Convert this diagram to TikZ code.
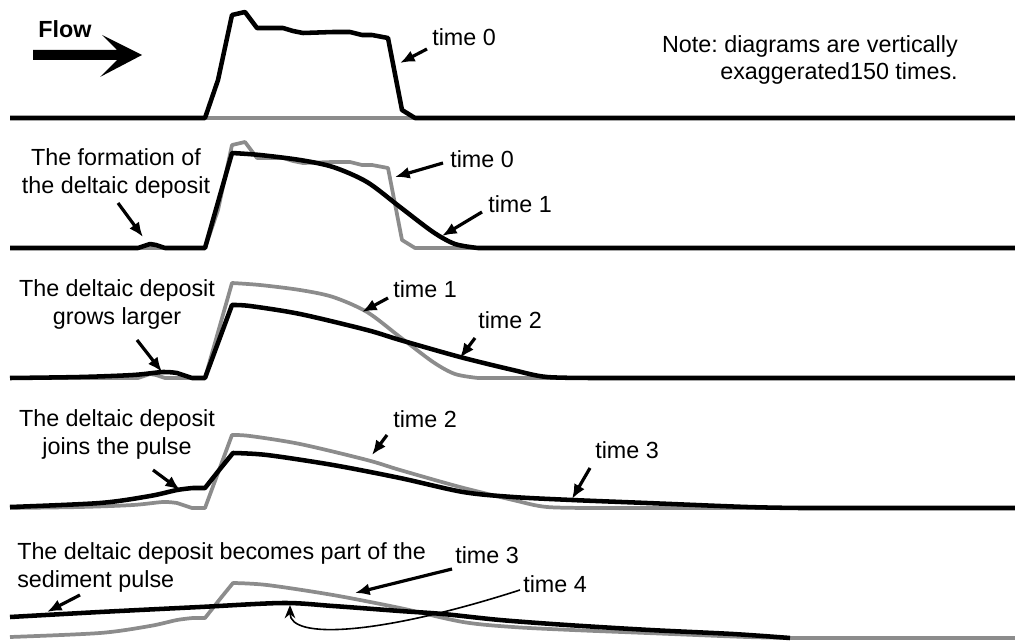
\documentclass[tikz,border=0pt]{standalone}
\usepackage{fontspec}
\setmainfont{Liberation Sans}
\usetikzlibrary{arrows.meta}
\definecolor{gcurve}{RGB}{140,140,140}
\frenchspacing
\begin{document}
\begin{tikzpicture}[x=0.75pt,y=-0.75pt,
  blk/.style={line width=3.4pt, line join=round},
  gry/.style={draw=gcurve, line width=2.8pt, line join=round},
  lbl/.style={font=\fontsize{17.5}{20.4}\selectfont, inner sep=0pt},
  ptr/.style={line width=2.4pt, -{Latex[length=11pt,width=9pt]}},
  thinptr/.style={line width=1.2pt, -{Stealth[length=10pt,width=8pt]}},
]
\useasboundingbox (0,0) rectangle (1015,642);

% ---------------- Panel 1 ----------------
\draw[gry] (205,118) -- (415,118);
\draw[blk] (10,118) -- (205,118) -- (218,80) -- (232,15) -- (245,12) -- (257,28) -- (283,28) -- (293,31) -- (303,33) -- (333,32) -- (350,32) -- (362,35) -- (372,35) -- (388,38) -- (402,110) -- (415,118) -- (1015,118);
\node[lbl, font=\fontsize{17.5}{20.4}\selectfont\bfseries, anchor=base west] (flow) at (38,38) {Flow};
\fill (33,50) -- (117,50) -- (102,35) -- (142,55) -- (100,77) -- (117,60) -- (33,60) -- cycle;
\node[lbl, anchor=base west] (t0a) at (432,46) {time 0};
\coordinate (t0as) at (427,49);
\coordinate (t0at) at (400,63);
\draw[ptr] (t0as) -- (t0at);
\node[lbl, align=right, anchor=base east] (note) at (958,80) {Note: diagrams are vertically\\exaggerated150 times.};

% ---------------- Panel 2 ----------------
\begin{scope}[shift={(0,130)}]
\draw[gry] (10,118) -- (205,118) -- (218,80) -- (232,15) -- (245,12) -- (257,28) -- (283,28) -- (293,31) -- (303,33) -- (333,32) -- (350,32) -- (362,35) -- (372,35) -- (388,38) -- (402,110) -- (415,118) -- (1015,118);
\end{scope}
\draw[blk] (10,248) -- (138,248) -- (150,244) -- (156,245) -- (165,248) -- (205,248) -- (232,153) -- plot[smooth] coordinates {(232,153) (260,155) (300,160) (333,167) (367,182) (400,207) (433,232) (455,244) (478,248)} -- (1015,248);
\node[lbl, align=center, anchor=base] (lab2) at (116,193) {The formation of\\the deltaic deposit};
\coordinate (lab2s) at (118,203);
\coordinate (lab2t) at (143,237);
\draw[ptr] (lab2s) -- (lab2t);
\node[lbl, anchor=base west] (t0b) at (450,167) {time 0};
\coordinate (t0bs) at (443,163);
\coordinate (t0bt) at (395,177);
\draw[ptr] (t0bs) -- (t0bt);
\node[lbl, anchor=base west] (t1b) at (488,213) {time 1};
\coordinate (t1bs) at (482,212);
\coordinate (t1bt) at (442,236);
\draw[ptr] (t1bs) -- (t1bt);

% ---------------- Panel 3 ----------------
\begin{scope}[shift={(0,130)}]
\draw[gry] (10,248) -- (138,248) -- (150,244) -- (156,245) -- (165,248) -- (205,248) -- (232,153) -- plot[smooth] coordinates {(232,153) (260,155) (300,160) (333,167) (367,182) (400,207) (433,232) (455,244) (478,248)} -- (1015,248);
\end{scope}
\draw[blk] plot[smooth] coordinates {(10,378) (80,377) (133,375) (163,372) (177,373)} -- (192,378) -- (205,378) -- (232,305) -- plot[smooth] coordinates {(232,305) (250,306) (300,314) (367,330) (400,340) (460,357) (513,370) (547,377) (600,378)} -- (1015,378);
\node[lbl, align=center, anchor=base] (lab3) at (117,324) {The deltaic deposit\\grows larger};
\coordinate (lab3s) at (137,340);
\coordinate (lab3t) at (162,372);
\draw[ptr] (lab3s) -- (lab3t);
\node[lbl, anchor=base west] (t1c) at (393,297) {time 1};
\coordinate (t1cs) at (388,298);
\coordinate (t1ct) at (362,312);
\draw[ptr] (t1cs) -- (t1ct);
\node[lbl, anchor=base west] (t2c) at (478,328) {time 2};
\coordinate (t2cs) at (475,338);
\coordinate (t2ct) at (460,358);
\draw[ptr] (t2cs) -- (t2ct);

% ---------------- Panel 4 ----------------
\begin{scope}[shift={(0,130)}]
\draw[gry] plot[smooth] coordinates {(10,378) (80,377) (133,375) (163,372) (177,373)} -- (192,378) -- (205,378) -- (232,305) -- plot[smooth] coordinates {(232,305) (250,306) (300,314) (367,330) (400,340) (460,357) (513,370) (547,377) (600,378)} -- (1015,378);
\end{scope}
\draw[blk] plot[smooth] coordinates {(10,507) (100,503) (150,496) (177,490) (193,488)} -- (205,488) -- (220,469) -- (233,453) -- plot[smooth] coordinates {(233,453) (267,455) (333,465) (400,478) (463,492) (513,497) (572,500) (647,503) (747,507) (800,508)} -- (1015,508);
\node[lbl, align=center, anchor=base] (lab4) at (117,454) {The deltaic deposit\\joins the pulse};
\coordinate (lab4s) at (153,470);
\coordinate (lab4t) at (180,490);
\draw[ptr] (lab4s) -- (lab4t);
\node[lbl, anchor=base west] (t2d) at (393,427) {time 2};
\coordinate (t2ds) at (387,435);
\coordinate (t2dt) at (372,455);
\draw[ptr] (t2ds) -- (t2dt);
\node[lbl, anchor=base west] (t3d) at (595,458) {time 3};
\coordinate (t3ds) at (590,468);
\coordinate (t3dt) at (572,499);
\draw[ptr] (t3ds) -- (t3dt);

% ---------------- Panel 5 ----------------
\begin{scope}[shift={(0,130)}]
\draw[gry] plot[smooth] coordinates {(10,507) (100,503) (150,496) (177,490) (193,488)} -- (205,488) -- (220,469) -- (233,453) -- plot[smooth] coordinates {(233,453) (267,455) (333,465) (400,478) (463,492) (513,497) (572,500) (647,503) (747,507) (800,508)} -- (1015,508);
\end{scope}
\draw[blk] plot[smooth] coordinates {(10,617) (100,612) (200,607) (283,603) (333,606) (400,611) (443,614) (500,620) (567,625) (650,630) (733,634) (790,638)};
\node[lbl, align=left, anchor=base west] (lab5) at (17,587) {The deltaic deposit becomes part of the\\sediment pulse};
\coordinate (lab5s) at (80,595);
\coordinate (lab5t) at (47,612);
\draw[ptr] (lab5s) -- (lab5t);
\node[lbl, anchor=base west] (t3e) at (455,563) {time 3};
\coordinate (t3es) at (452,569);
\coordinate (t3et) at (355,593);
\draw[ptr] (t3es) -- (t3et);
\node[lbl, anchor=base west] (t4e) at (523,592) {time 4};
\coordinate (t4es) at (520,590);
\coordinate (t4et) at (290,605);
\draw[thinptr] (t4es) .. controls (380,635) and (290,640) .. (t4et);
\end{tikzpicture}
\end{document}
